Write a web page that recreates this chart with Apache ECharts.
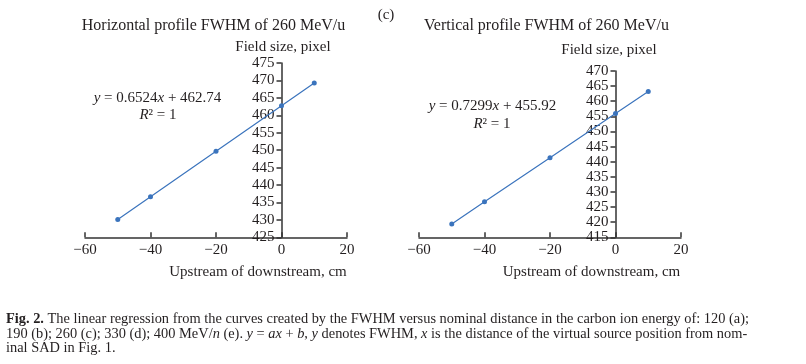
<!DOCTYPE html>
<html>
<head>
<meta charset="utf-8">
<script src="https://cdn.jsdelivr.net/npm/echarts@6/dist/echarts.min.js"></script>
<style>
html,body{margin:0;padding:0;background:#fff;}
#chart{width:806px;height:364px;}
</style>
</head>
<body>
<div id="chart"></div>
<script>
// ---- data ----
const xValues = [-50, -40, -20, 0, 10];
const horizontalFWHM = [430.12, 436.64, 449.69, 462.74, 469.26];
const verticalFWHM = [419.43, 426.72, 441.32, 455.92, 463.22];
const xTicks = [-60, -40, -20, 0, 20];
const hYRange = [425, 475];
const vYRange = [415, 470];
const panelTitles = ['Horizontal profile FWHM of 260 MeV/u', 'Vertical profile FWHM of 260 MeV/u'];
const yAxisName = 'Field size, pixel';
const xAxisName = 'Upstream of downstream, cm';
const equations = [['0.6524', '462.74'], ['0.7299', '455.92']];
const panelLabel = '(c)';

const FONT = '"Liberation Serif", "DejaVu Serif", serif';
const TXT = '#231f20';
const BLUE = '#3b74bd';
const GRID_W = 262;
// y axis sits at x = 0: offset from grid left edge
const Y_OFFSET = -GRID_W * (0 - xTicks[0]) / (xTicks[xTicks.length - 1] - xTicks[0]);

const chart = echarts.init(document.getElementById('chart'), null, {renderer: 'canvas'});

function xAxisDef(gi) {
  return {
    gridIndex: gi, type: 'value', min: xTicks[0], max: xTicks[xTicks.length - 1], interval: 20,
    axisLine: {onZero: false, lineStyle: {color: '#333', width: 1.5}},
    axisTick: {inside: true, length: 5, lineStyle: {color: '#333', width: 1.5}},
    axisLabel: {margin: 5, fontFamily: FONT, fontSize: 15, color: TXT,
      formatter: v => String(v).replace('-', '\u2212')},
    splitLine: {show: false}
  };
}
function yAxisDef(gi, range) {
  return {
    gridIndex: gi, type: 'value', min: range[0], max: range[1], interval: 5,
    position: 'left', offset: Y_OFFSET,
    axisLine: {show: true, onZero: false, lineStyle: {color: '#333', width: 1.5}},
    axisTick: {show: true, inside: false, length: 5, lineStyle: {color: '#333', width: 1.5}},
    axisLabel: {margin: 7, fontFamily: FONT, fontSize: 15, color: TXT, showMinLabel: true, showMaxLabel: true},
    splitLine: {show: false}
  };
}
function seriesDef(gi, vals) {
  return {
    type: 'line', xAxisIndex: gi, yAxisIndex: gi,
    data: xValues.map((x, i) => [x, vals[i]]),
    symbol: 'circle', symbolSize: 5, showSymbol: true,
    lineStyle: {color: BLUE, width: 1.2},
    itemStyle: {color: BLUE},
    animation: false
  };
}
function txt(x, y, text, size, extra) {
  return {
    type: 'text', x: x, y: y,
    style: Object.assign({text: text, fontFamily: FONT, fontSize: size, fill: TXT,
      align: 'center', verticalAlign: 'middle'}, extra || {})
  };
}
const rich = {
  i: {fontFamily: FONT, fontStyle: 'italic', fontSize: 15, color: TXT},
  n: {fontFamily: FONT, fontSize: 15, color: TXT}
};
const CAP = 14.4;
const capRich = {
  b: {fontFamily: FONT, fontWeight: 'bold', fontSize: CAP, color: TXT},
  n: {fontFamily: FONT, fontSize: CAP, color: TXT},
  i: {fontFamily: FONT, fontStyle: 'italic', fontSize: CAP, color: TXT}
};

const option = {
  backgroundColor: '#fff',
  animation: false,
  grid: [
    {left: 85, top: 63, width: GRID_W, height: 174.3},
    {left: 419, top: 71, width: GRID_W, height: 166.3}
  ],
  xAxis: [xAxisDef(0), xAxisDef(1)],
  yAxis: [yAxisDef(0, hYRange), yAxisDef(1, vYRange)],
  series: [seriesDef(0, horizontalFWHM), seriesDef(1, verticalFWHM)],
  graphic: [
    txt(386, 15, panelLabel, 15),
    txt(213.5, 26, panelTitles[0], 16),
    txt(546.5, 26, panelTitles[1], 16),
    txt(283, 47, yAxisName, 15),
    txt(609, 50, yAxisName, 15),
    txt(258, 272, xAxisName, 15),
    txt(591.5, 272, xAxisName, 15),
    txt(157.5, 98, '{i|y}{n| = ' + equations[0][0] + '}{i|x}{n| + ' + equations[0][1] + '}', 15, {rich: rich}),
    txt(158, 115, '{i|R}{n|\u00b2 = 1}', 15, {rich: rich}),
    txt(492.5, 106, '{i|y}{n| = ' + equations[1][0] + '}{i|x}{n| + ' + equations[1][1] + '}', 15, {rich: rich}),
    txt(492, 124, '{i|R}{n|\u00b2 = 1}', 15, {rich: rich}),
    {
      type: 'text', x: 6, y: 312,
      style: {
        fontFamily: FONT, fontSize: CAP, fill: TXT, align: 'left', verticalAlign: 'top', lineHeight: 14.5,
        rich: capRich,
        text: '{b|Fig. 2.}{n| The linear regression from the curves created by the FWHM versus nominal distance in the carbon ion energy of: 120 (a);}\n' +
              '{n|190 (b); 260 (c); 330 (d); 400 MeV/}{i|n}{n| (e). }{i|y}{n| = }{i|ax}{n| + }{i|b}{n|, }{i|y}{n| denotes FWHM, }{i|x}{n| is the distance of the virtual source position from nom-}\n' +
              '{n|inal SAD in Fig. 1.}'
      }
    }
  ]
};
chart.setOption(option);
</script>
</body>
</html>
